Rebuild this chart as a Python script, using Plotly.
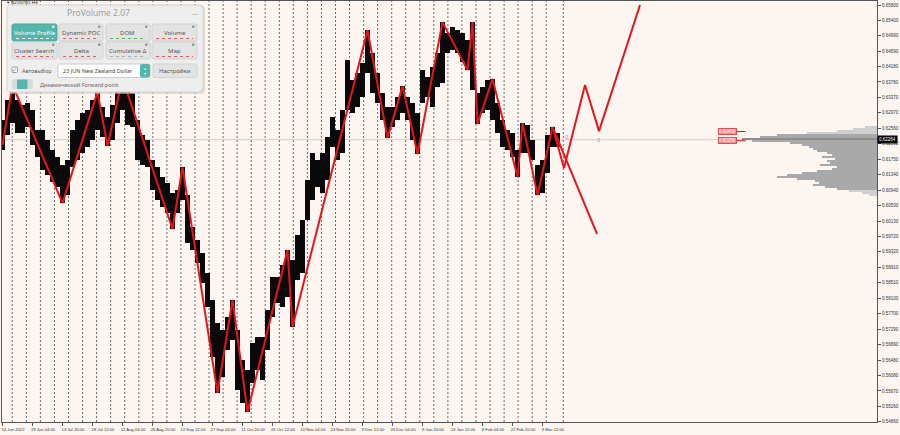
import plotly.graph_objects as go

# ------------------------------------------------------------------ data
# one slot = a group of H4 bars, high / low prices
highs = [
    0.6278, 0.6331, 0.6370, 0.6331, 0.6318, 0.6323, 0.6305, 0.6252, 0.6252, 0.6226,
    0.6200, 0.6181, 0.6160, 0.6173, 0.6252, 0.6278, 0.6297, 0.6305, 0.6331, 0.6352,
    0.6312, 0.6286, 0.6318, 0.6357, 0.6388, 0.6370, 0.6349, 0.6278, 0.6239, 0.6226,
    0.6173, 0.6155, 0.6129, 0.6113, 0.6087, 0.6095, 0.6155, 0.6081, 0.5998, 0.5963,
    0.5929, 0.5877, 0.5806, 0.5746, 0.5727, 0.5761, 0.5806, 0.5727, 0.5649, 0.5622,
    0.5693, 0.5709, 0.5709, 0.5780, 0.5866, 0.5866, 0.5898, 0.5937, 0.5911, 0.5977,
    0.6016, 0.6121, 0.6192, 0.6173, 0.6192, 0.6234, 0.6286, 0.6252, 0.6305, 0.6436,
    0.6383, 0.6402, 0.6428, 0.6514, 0.6454, 0.6402, 0.6349, 0.6312, 0.6312, 0.6339,
    0.6367, 0.6339, 0.6323, 0.6297, 0.6409, 0.6391, 0.6417, 0.6454, 0.6535, 0.6507,
    0.6522, 0.6514, 0.6507, 0.6488, 0.6535, 0.6349, 0.6365, 0.6383, 0.6386, 0.6323,
    0.6278, 0.6252, 0.6244, 0.6200, 0.6270, 0.6265, 0.6226, 0.6160, 0.6173, 0.6239,
    0.6260, 0.6244,
]
lows = [
    0.6200, 0.6239, 0.6270, 0.6244, 0.6244, 0.6260, 0.6213, 0.6181, 0.6147, 0.6134,
    0.6116, 0.6102, 0.6060, 0.6081, 0.6155, 0.6173, 0.6192, 0.6207, 0.6226, 0.6252,
    0.6234, 0.6210, 0.6226, 0.6270, 0.6305, 0.6265, 0.6260, 0.6173, 0.6160, 0.6155,
    0.6095, 0.6068, 0.6050, 0.6034, 0.5992, 0.6034, 0.6068, 0.5956, 0.5937, 0.5903,
    0.5851, 0.5788, 0.5656, 0.5562, 0.5604, 0.5675, 0.5701, 0.5570, 0.5536, 0.5512,
    0.5588, 0.5622, 0.5596, 0.5675, 0.5761, 0.5798, 0.5788, 0.5814, 0.5735, 0.5858,
    0.5877, 0.6016, 0.6068, 0.6102, 0.6087, 0.6121, 0.6207, 0.6173, 0.6192, 0.6305,
    0.6297, 0.6312, 0.6339, 0.6402, 0.6349, 0.6323, 0.6278, 0.6231, 0.6260, 0.6278,
    0.6297, 0.6278, 0.6226, 0.6189, 0.6323, 0.6339, 0.6312, 0.6365, 0.6375, 0.6454,
    0.6462, 0.6454, 0.6430, 0.6409, 0.6357, 0.6268, 0.6297, 0.6305, 0.6278, 0.6244,
    0.6207, 0.6200, 0.6181, 0.6129, 0.6192, 0.6192, 0.6173, 0.6081, 0.6087, 0.6139,
    0.6207, 0.6207,
]
bar_index = list(range(len(highs)))

# zigzag swing points (bar index, price)
zz_x = [0, 2, 12, 19, 21, 24, 34, 36, 43, 46, 49, 57, 58, 73, 77, 80, 83, 88,
        93, 94, 95, 98, 103, 104, 107, 110]
zz_y = [0.6213, 0.6370, 0.6060, 0.6352, 0.6210, 0.6388, 0.5992, 0.6155, 0.5562,
        0.5806, 0.5512, 0.5937, 0.5735, 0.6514, 0.6231, 0.6367, 0.6189, 0.6535,
        0.6409, 0.6535, 0.6268, 0.6386, 0.6129, 0.6270, 0.6081, 0.6260]
# forward projections
proj_up_x = [110, 112.3, 116.5, 119.3, 127.5]
proj_up_y = [0.6260, 0.6152, 0.6370, 0.6249, 0.6580]
proj_dn_x = [110, 118.9]
proj_dn_y = [0.6260, 0.5979]

# weekly period separators (bar index)
separators = [1.96, 4.78, 7.58, 10.40, 13.20, 16.02, 18.82, 21.64, 24.44, 27.26,
              30.06, 32.88, 35.68, 38.50, 41.30, 44.12, 46.92, 49.74, 52.54, 55.36,
              58.16, 60.98, 63.78, 66.60, 69.40, 72.22, 75.02, 77.84, 80.64, 83.46,
              86.26, 89.08, 91.88, 94.70, 97.50, 100.32, 103.12, 105.94, 108.74, 112.16]

x_tick_vals = [-0.1, 5.9, 11.9, 17.9, 23.9, 29.9, 35.9, 41.9, 47.9, 53.9,
               59.9, 65.9, 71.9, 77.9, 83.9, 89.9, 95.9, 101.9, 107.9]
x_tick_text = ["14 Jun 2022", "29 Jun 04:00", "13 Jul 20:00", "28 Jul 12:00",
               "12 Aug 04:00", "26 Aug 20:00", "12 Sep 12:00", "27 Sep 04:00",
               "11 Oct 20:00", "26 Oct 12:00", "10 Nov 04:00", "24 Nov 20:00",
               "9 Dec 12:00", "26 Dec 04:00", "9 Jan 20:00", "24 Jan 12:00",
               "8 Feb 04:00", "22 Feb 20:00", "9 Mar 12:00"]
y_tick_vals = [0.65800, 0.65400, 0.64990, 0.64590, 0.64180, 0.63780, 0.63370,
               0.62970, 0.62560, 0.62160, 0.61750, 0.61340, 0.60940, 0.60530,
               0.60130, 0.59720, 0.59320, 0.58910, 0.58510, 0.58100, 0.57700,
               0.57290, 0.56890, 0.56480, 0.56080, 0.55670, 0.55260, 0.54860]
current_price = 0.62264

# volume profile (price bin, volume)
profile_prices = [0.6260, 0.6255, 0.6249, 0.6244, 0.6239, 0.6234, 0.6228, 0.6223,
                  0.6218, 0.6213, 0.6207, 0.6202, 0.6197, 0.6192, 0.6186, 0.6181,
                  0.6176, 0.6171, 0.6165, 0.6160, 0.6155, 0.6150, 0.6144, 0.6139,
                  0.6134, 0.6129, 0.6123, 0.6118, 0.6113, 0.6108, 0.6102, 0.6097,
                  0.6092, 0.6087, 0.6081]
profile_volume = [12, 24, 40, 70, 100, 117, 135, 125, 87, 75, 68, 64, 60, 50, 45,
                  55, 42, 50, 47, 57, 40, 45, 60, 75, 90, 100, 80, 62, 58, 64, 52,
                  40, 28, 15, 8]

level_labels = ["0.62450", "0.62250"]
level_prices = [0.6248, 0.6224]
marker_x = [112.9, 119.3]
marker_y = [0.6234, 0.6226]

# ------------------------------------------------------------------ style
BG = "#fdf5f0"
RED = "#e8141c"
TEAL = "#55b6ab"
X_RANGE = [-0.1, 174.9]
Y_RANGE = [0.54855, 0.65905]

fig = go.Figure()

fig.add_trace(go.Bar(
    x=bar_index, y=[h - l for h, l in zip(highs, lows)], base=lows,
    width=0.95, marker=dict(color="#0a0a0a", line=dict(width=0)),
    xaxis="x", yaxis="y", hoverinfo="skip"))

prof_colors = []
for i, v in enumerate(profile_volume):
    if i < 4 or i > 31:
        prof_colors.append("#cfcfcf")
    elif v == max(profile_volume):
        prof_colors.append("#8c8c8c")
    else:
        prof_colors.append("#a9a9a9")
fig.add_trace(go.Bar(
    y=profile_prices, x=profile_volume, orientation="h", width=0.00053,
    marker=dict(color=prof_colors, line=dict(width=0)),
    xaxis="x2", yaxis="y", hoverinfo="skip"))

fig.add_trace(go.Scatter(x=zz_x, y=zz_y, mode="lines",
                         line=dict(color=RED, width=2), hoverinfo="skip"))
fig.add_trace(go.Scatter(x=proj_up_x, y=proj_up_y, mode="lines",
                         line=dict(color=RED, width=2), hoverinfo="skip"))
fig.add_trace(go.Scatter(x=proj_dn_x, y=proj_dn_y, mode="lines",
                         line=dict(color=RED, width=2), hoverinfo="skip"))

shapes = []
for s in separators:
    shapes.append(dict(type="line", xref="x", yref="paper", x0=s, x1=s, y0=0, y1=1,
                       line=dict(color="#6a6a6a", width=1, dash="2px,2px"),
                       layer="below"))
shapes.append(dict(type="line", xref="paper", yref="y", x0=0, x1=1,
                   y0=current_price, y1=current_price,
                   line=dict(color="#cfcfcf", width=1), layer="below"))
for p in level_prices:
    shapes.append(dict(type="line", xref="x", yref="y", x0=146.8, x1=148.6,
                       y0=p, y1=p, line=dict(color=RED, width=1)))

annotations = []
for t, p in zip(level_labels, level_prices):
    annotations.append(dict(x=144.9, y=p, xref="x", yref="y", text=t,
                            showarrow=False, bgcolor="#f08a8a",
                            bordercolor="#e05050", borderwidth=1, borderpad=0,
                            font=dict(color="white", size=4.5,
                                      family="Liberation Sans")))
for mx, my in zip(marker_x, marker_y):
    annotations.append(dict(x=mx, y=my, xref="x", yref="y", text="0",
                            showarrow=False,
                            font=dict(color="#f08080", size=6,
                                      family="Liberation Sans")))
annotations.append(dict(x=1, y=current_price, xref="paper", yref="y",
                        xanchor="left", text="0.62264", showarrow=False,
                        bgcolor="#000000", borderpad=1,
                        font=dict(color="white", size=4.5,
                                  family="Liberation Sans")))


# ------------------------------------------------------------------ overlay panel (pixel layout)
def X(px):
    return (px - 2) / 875.0


def Y(py):
    return (422 - py) / 421.0


def rrect(x0, y0, x1, y1, r):
    pts = [
        ("M", x0 + r, y0), ("L", x1 - r, y0), ("Q", x1, y0, x1, y0 + r),
        ("L", x1, y1 - r), ("Q", x1, y1, x1 - r, y1), ("L", x0 + r, y1),
        ("Q", x0, y1, x0, y1 - r), ("L", x0, y0 + r), ("Q", x0, y0, x0 + r, y0),
    ]
    out = []
    for cmd in pts:
        c = cmd[0]
        vals = cmd[1:]
        coords = []
        for k in range(0, len(vals), 2):
            coords.append("%.5f,%.5f" % (X(vals[k]), Y(vals[k + 1])))
        out.append(c + " " + " ".join(coords))
    return " ".join(out) + " Z"


def box(x0, y0, x1, y1, r, fill, line=None, lw=1, opacity=1):
    shapes.append(dict(type="path", xref="paper", yref="paper",
                       path=rrect(x0, y0, x1, y1, r), fillcolor=fill,
                       opacity=opacity,
                       line=dict(color=line or fill, width=lw if line else 0),
                       layer="above"))


def txt(x, y, s, size=6, color="#555555", anchor="center", family="Noto Sans"):
    annotations.append(dict(x=X(x), y=Y(y), xref="paper", yref="paper", text=s,
                            showarrow=False, xanchor=anchor, yanchor="middle",
                            font=dict(size=size, color=color, family=family)))


box(8, 6, 205, 94, 4, "#cfc9c4", opacity=0.6)
box(7, 5, 203, 92, 4, "#eeeeee", "#d4d4d4")
txt(98, 13, "ProVolume 2.07", size=8.5, color="#a0a0a0")
txt(195, 14, "—", size=6, color="#9a9a9a")

buttons = [("Volume Profile", 12, 24, 57, 41, True, "#ffffff"),
           ("Dynamic POC", 59, 24, 103, 41, False, "#e06060"),
           ("DOM", 106, 24, 150, 41, False, "#60b060"),
           ("Volume", 152, 24, 197, 41, False, "#e06060"),
           ("Cluster Search", 12, 42, 57, 59, False, "#e06060"),
           ("Delta", 59, 42, 103, 59, False, "#e06060"),
           ("Cumulative Δ", 106, 42, 150, 59, False, "#b0b0b0"),
           ("Map", 152, 42, 197, 59, False, "#e06060")]
for label, x0, y0, x1, y1, active, ind in buttons:
    box(x0, y0, x1, y1, 2, TEAL if active else "#e3e3e3",
        "#4aa89d" if active else "#d2d2d2")
    shapes.append(dict(type="line", xref="paper", yref="paper",
                       x0=X(x0 + 4), x1=X(x1 - 4), y0=Y(y1 - 2.5), y1=Y(y1 - 2.5),
                       line=dict(color=ind, width=1, dash="3px,3px"),
                       layer="above"))
    shapes.append(dict(type="circle", xref="paper", yref="paper",
                       x0=X(x1 - 5), x1=X(x1 - 2.5), y0=Y(y0 + 4), y1=Y(y0 + 1.5),
                       fillcolor="#8a8a8a" if not active else "#e8f5f3",
                       line=dict(width=0), layer="above"))
    txt((x0 + x1) / 2, (y0 + y1) / 2 + 0.5, label, size=6,
        color="#ffffff" if active else "#555555")

# row 3
box(12, 67, 17.5, 72.5, 1, "#ffffff", "#9a9a9a")
txt(14.8, 69.5, "✓", size=6, color="#3a9a8f", family="DejaVu Sans")
txt(19.5, 70.5, "Автовыбор", size=5.5, color="#555555", anchor="left")
box(58, 64, 150, 77.5, 2, "#ffffff", "#cccccc")
box(140, 64, 150, 77.5, 2, TEAL)
txt(145, 68.5, "▴", size=4, color="#ffffff", family="DejaVu Sans")
txt(145, 73.5, "▾", size=4, color="#ffffff", family="DejaVu Sans")
txt(61, 71, "23 JUN New Zealand Dollar", size=5.5, color="#444444", anchor="left")
box(153, 64, 197, 77.5, 2, "#e3e3e3", "#d2d2d2")
txt(175, 71, "Настройки", size=6, color="#555555")
# row 4
box(12, 79, 33, 89.5, 2, "#dadada")
box(17, 79.5, 27.5, 89, 1, TEAL)
txt(38, 84.5, "Динамический Forward-point", size=5.5, color="#666666", anchor="left")

# chart title
annotations.append(dict(x=X(5), y=Y(2.5), xref="paper", yref="paper",
                        text="▾ NZDUSD,H4", showarrow=False, xanchor="left",
                        yanchor="middle",
                        font=dict(size=4.5, color="#222222", family="DejaVu Sans")))

fig.update_layout(
    width=900, height=435,
    margin=dict(l=2, r=23, t=1, b=13),
    paper_bgcolor=BG, plot_bgcolor=BG,
    showlegend=False, barmode="overlay", bargap=0,
    shapes=shapes, annotations=annotations,
    xaxis=dict(range=X_RANGE, tickmode="array", tickvals=x_tick_vals,
               ticktext=x_tick_text, ticks="outside", ticklen=3,
               tickcolor="#555555", showline=True, linecolor="#555555",
               linewidth=1, mirror=True, showgrid=False, zeroline=False,
               tickfont=dict(size=4.2, color="#333333", family="Liberation Sans"),
               ticklabelshift=11, fixedrange=True),
    xaxis2=dict(overlaying="x", range=[875, 0], visible=False, fixedrange=True,
                anchor="y"),
    yaxis=dict(range=Y_RANGE, side="right", tickmode="array",
               tickvals=y_tick_vals, ticktext=["%.5f" % v for v in y_tick_vals],
               ticks="outside", ticklen=3, tickcolor="#555555", showline=True,
               linecolor="#555555", linewidth=1, mirror=True, showgrid=False,
               zeroline=False,
               tickfont=dict(size=4.5, color="#333333", family="Liberation Sans"),
               fixedrange=True),
)

fig.write_html(
    "out.html",
    config={"displayModeBar": False},
    post_script="document.body.style.margin='0';document.body.style.overflow='hidden';",
)
